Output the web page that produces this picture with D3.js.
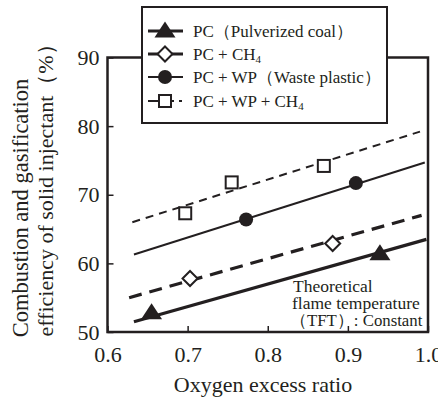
<!DOCTYPE html>
<html>
<head>
<meta charset="utf-8">
<script src="https://cdn.jsdelivr.net/npm/d3@7"></script>
</head>
<body style="margin:0">
<script>
// measured points
const pcPts = [[0.655, 52.8], [0.940, 61.4]];
const pcCh4Pts = [[0.703, 57.8], [0.881, 62.9]];
const pcWpPts = [[0.773, 66.4], [0.910, 71.7]];
const pcWpCh4Pts = [[0.697, 67.3], [0.755, 71.8], [0.870, 74.2]];

// fitted lines (start, end)
const pcLine = [[0.633, 51.5], [0.998, 63.5]];
const pcCh4Line = [[0.627, 55.0], [0.992, 67.0]];
const pcWpLine = [[0.633, 61.3], [0.996, 74.7]];
const pcWpCh4Line = [[0.631, 66.0], [0.990, 79.2]];

const xTicks = [0.6, 0.7, 0.8, 0.9, 1.0];
const yTicks = [50, 60, 70, 80, 90];
const legendLabels = ['PC（Pulverized coal）', 'PC + CH4', 'PC + WP（Waste plastic）', 'PC + WP + CH4'];

const W = 438, H = 399;
const margin = {top: 57.5, right: 10, bottom: 67, left: 107.5};
const ink = '#231f20';
const serif = 'Liberation Serif';

const svg = d3.select('body').append('svg')
  .attr('width', W)
  .attr('height', H);

const x = d3.scaleLinear().domain([0.6, 1.0]).range([margin.left, W - margin.right]);
const y = d3.scaleLinear().domain([50, 90]).range([H - margin.bottom, margin.top]);

// ticks point inward
const xAxis = svg.append('g')
  .attr('transform', `translate(0,${y(50)})`)
  .call(d3.axisBottom(x).tickValues(xTicks).tickSize(-6).tickFormat(d3.format('.1f')).tickPadding(14));
const yAxis = svg.append('g')
  .attr('transform', `translate(${x(0.6)},0)`)
  .call(d3.axisLeft(y).tickValues(yTicks).tickSize(-6).tickFormat(d3.format('d')).tickPadding(8));

[xAxis, yAxis].forEach(g => {
  g.attr('font-family', serif).attr('font-size', 22);
  g.select('.domain').remove();
  g.selectAll('line').attr('stroke', ink).attr('stroke-width', 1.5);
  g.selectAll('text').attr('fill', ink);
});

// frame
svg.append('rect')
  .attr('x', x(0.6)).attr('y', y(90))
  .attr('width', x(1.0) - x(0.6)).attr('height', y(50) - y(90))
  .attr('fill', 'none').attr('stroke', ink).attr('stroke-width', 2.5);

const line = d3.line().x(d => x(d[0])).y(d => y(d[1]));

const series = [
  {fit: pcLine, pts: pcPts, sym: 'tri', w: 3.2, dash: null},
  {fit: pcCh4Line, pts: pcCh4Pts, sym: 'dia', w: 3.2, dash: '13,8'},
  {fit: pcWpLine, pts: pcWpPts, sym: 'cir', w: 2, dash: null},
  {fit: pcWpCh4Line, pts: pcWpCh4Pts, sym: 'sq', w: 2, dash: '8,6'}
];

function marker(g, sym, cx, cy) {
  if (sym === 'tri') {
    g.append('path')
      .attr('d', `M${cx},${cy - 9.5}L${cx + 10.5},${cy + 6.5}L${cx - 10.5},${cy + 6.5}Z`)
      .attr('fill', ink);
  } else if (sym === 'dia') {
    g.append('path')
      .attr('d', `M${cx},${cy - 7.5}L${cx + 7.5},${cy}L${cx},${cy + 7.5}L${cx - 7.5},${cy}Z`)
      .attr('fill', '#fff').attr('stroke', ink).attr('stroke-width', 2);
  } else if (sym === 'cir') {
    g.append('circle').attr('cx', cx).attr('cy', cy).attr('r', 7).attr('fill', ink);
  } else {
    g.append('rect').attr('x', cx - 6).attr('y', cy - 6).attr('width', 12).attr('height', 12)
      .attr('fill', '#fff').attr('stroke', ink).attr('stroke-width', 2);
  }
}

series.forEach(s => {
  svg.append('path')
    .attr('d', line(s.fit))
    .attr('fill', 'none')
    .attr('stroke', ink)
    .attr('stroke-width', s.w)
    .attr('stroke-dasharray', s.dash);
  const g = svg.append('g');
  s.pts.forEach(p => marker(g, s.sym, x(p[0]), y(p[1])));
});

function label(px, py, size, str) {
  return svg.append('text')
    .attr('x', px).attr('y', py)
    .attr('font-family', serif).attr('font-size', size).attr('fill', ink)
    .text(str);
}

// annotation
label(293, 292, 17.5, 'Theoretical');
label(292, 309, 17.5, 'flame temperature');
const tft = label(290, 326, 17.5, '（TFT）: Constant');
const tw = tft.node().getComputedTextLength();
tft.attr('font-size', (17.5 * 133 / tw).toFixed(2));

// legend
const lg = svg.append('g');
lg.append('rect')
  .attr('x', 142).attr('y', 7).attr('width', 245).attr('height', 116)
  .attr('fill', '#fff').attr('stroke', ink).attr('stroke-width', 2);

const rowY = [31, 54, 77, 101];
legendLabels.forEach((lab, i) => {
  const s = series[i];
  const cy = rowY[i];
  lg.append('line')
    .attr('x1', 148).attr('x2', i === 3 ? 184 : 183).attr('y1', cy).attr('y2', cy)
    .attr('stroke', ink).attr('stroke-width', s.w)
    .attr('stroke-dasharray', i === 3 ? '26,5,3,10' : null);
  marker(lg, s.sym, 165, cy);
  const t = lg.append('text').attr('x', 193).attr('y', cy + 5.5)
    .attr('font-family', serif).attr('font-size', 17).attr('fill', ink);
  const m = lab.match(/^(.*CH)4$/);
  if (m) {
    t.append('tspan').text(m[1]);
    t.append('tspan').attr('font-size', 11).attr('dy', 3).text('4');
  } else {
    t.text(lab);
  }
});

// axis titles
label(263, 392, 22, 'Oxygen excess ratio').attr('text-anchor', 'middle');

label(0, 0, 22.5, 'Combustion and gasification')
  .attr('transform', 'translate(28,208) rotate(-90)').attr('text-anchor', 'middle');
label(0, 0, 22, 'efficiency of solid injectant（%）')
  .attr('transform', 'translate(53,185) rotate(-90)').attr('text-anchor', 'middle');
</script>
</body>
</html>
